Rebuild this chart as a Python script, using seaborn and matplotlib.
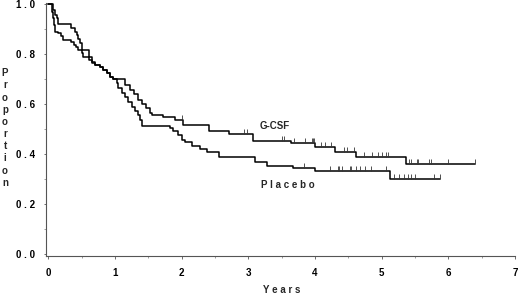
import numpy as np
import pandas as pd
import seaborn as sns
import matplotlib
matplotlib.use("Agg")
import matplotlib.pyplot as plt

# ---- Kaplan-Meier step data ----
gcsf_t = [0.0, 0.075, 0.10, 0.126, 0.15, 0.34, 0.40, 0.426, 0.45, 0.475, 0.50,
          0.61, 0.65, 0.70, 0.775, 0.82, 0.88, 0.925, 0.97, 1.15, 1.22, 1.28,
          1.345, 1.40, 1.465, 1.525, 1.55, 1.72, 1.90, 2.02, 2.41, 2.71, 3.07,
          3.64, 4.00, 4.30, 4.61, 5.36, 6.40]
gcsf_s = [1.0, 0.978, 0.958, 0.945, 0.922, 0.905, 0.891, 0.878, 0.861, 0.845, 0.818,
          0.79, 0.771, 0.758, 0.751, 0.738, 0.725, 0.711, 0.702, 0.678, 0.658, 0.64,
          0.618, 0.60, 0.587, 0.565, 0.558, 0.549, 0.538, 0.518, 0.495, 0.48, 0.455,
          0.445, 0.431, 0.411, 0.391, 0.36, 0.36]
gcsf_cens = [2.0, 2.93, 2.98, 3.50, 3.53, 3.68, 3.85, 3.95, 3.97, 3.98, 4.09, 4.15,
             4.24, 4.44, 4.48, 4.58, 4.73, 4.85, 4.94, 5.01, 5.06, 5.10, 5.41, 5.44,
             5.53, 5.55, 5.71, 5.74, 6.00, 6.40]

plac_t = [0.0, 0.05, 0.075, 0.09, 0.10, 0.15, 0.19, 0.225, 0.34, 0.385, 0.41, 0.45,
          0.50, 0.525, 0.61, 0.655, 0.70, 0.775, 0.82, 0.88, 0.925, 0.97, 1.025,
          1.05, 1.10, 1.15, 1.20, 1.25, 1.30, 1.34, 1.375, 1.40, 1.825, 1.875,
          1.945, 2.005, 2.05, 2.15, 2.27, 2.38, 2.56, 3.10, 3.28, 3.67, 4.00, 5.12, 5.88]
plac_s = [1.0, 0.97, 0.945, 0.918, 0.891, 0.885, 0.874, 0.858, 0.851, 0.838, 0.831, 0.818,
          0.805, 0.789, 0.778, 0.765, 0.758, 0.751, 0.738, 0.725, 0.711, 0.702, 0.685,
          0.665, 0.645, 0.631, 0.611, 0.591, 0.574, 0.558, 0.538, 0.515, 0.505, 0.495,
          0.478, 0.458, 0.451, 0.435, 0.422, 0.411, 0.391, 0.371, 0.355, 0.345, 0.334, 0.302, 0.302]
plac_cens = [3.84, 4.22, 4.34, 4.36, 4.40, 4.53, 4.54, 4.61, 4.68, 4.75, 4.84, 5.06,
             5.18, 5.26, 5.33, 5.39, 5.44, 5.50, 5.79, 5.87]

x_ticks = [0, 1, 2, 3, 4, 5, 6, 7]
y_ticks = [0.0, 0.2, 0.4, 0.6, 0.8, 1.0]
y_labels = ["0 . 0", "0 . 2", "0 . 4", "0 . 6", "0 . 8", "1 . 0"]


def step_value(times, surv, pts):
    idx = np.searchsorted(times, pts, side="right") - 1
    return np.asarray(surv)[idx]


sns.set_style("ticks")
plt.rcParams["font.family"] = ["Liberation Sans", "DejaVu Sans"]
plt.rcParams["font.weight"] = "bold"

fig = plt.figure(figsize=(5.2, 2.94), dpi=100)
ax = fig.add_axes([46 / 520, 0.1276, 469 / 520, 0.8614])

for t, s in [(gcsf_t, gcsf_s), (plac_t, plac_s)]:
    df = pd.DataFrame({"t": t, "s": s})
    sns.lineplot(data=df, x="t", y="s", ax=ax, color="black", linewidth=1.1,
                 drawstyle="steps-post", estimator=None, sort=False, clip_on=False)

for t, s, c in [(gcsf_t, gcsf_s, gcsf_cens), (plac_t, plac_s, plac_cens)]:
    ax.plot(c, step_value(t, s, c), ls="none", marker=2, markersize=3.6,
            markeredgewidth=0.6, color="#333333")

ax.text(3.17, 0.514, "G-CSF", fontsize=7, va="center", ha="left")
ax.text(3.19, 0.278, "P l a c e b o", fontsize=7, va="center", ha="left")

ax.set_xlim(-0.035, 7.0)
ax.set_ylim(-0.009, 1.005)
ax.set_xticks(x_ticks)
ax.set_xticklabels([str(v) for v in x_ticks])
ax.set_yticks(y_ticks)
ax.set_yticklabels(y_labels)
ax.set_xticks(np.arange(0.5, 7, 1.0), minor=True)
ax.set_yticks(np.arange(0.1, 1.0, 0.2), minor=True)
ax.tick_params(axis="both", which="major", length=1.8, width=0.6, labelsize=7,
               colors="#555555", labelcolor="black")
ax.tick_params(axis="x", which="major", pad=6.5)
ax.tick_params(axis="y", which="major", pad=6.1)
ax.tick_params(axis="both", which="minor", length=1.2, width=0.5, colors="#777777")
ax.set_xlabel("")
ax.set_ylabel("")
for side in ["top", "right"]:
    ax.spines[side].set_visible(False)
for side in ["left", "bottom"]:
    ax.spines[side].set_color("#555555")
    ax.spines[side].set_linewidth(0.8)

fig.text(5 / 520, 1 - 128 / 294, "\n".join("Proportion"), fontsize=7,
         ha="center", va="center", linespacing=1.27)
fig.text(282 / 520, 1 - 290 / 294, "Y e a r s", fontsize=7, ha="center", va="center")

fig.savefig("out.png", dpi=100)
